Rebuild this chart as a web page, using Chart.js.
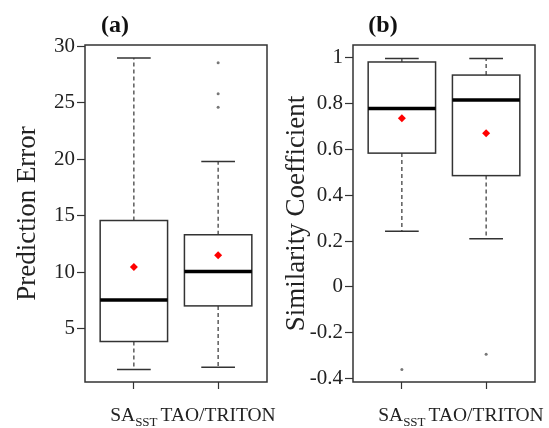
<!DOCTYPE html>
<html>
<head>
<meta charset="utf-8">
<script src="https://cdn.jsdelivr.net/npm/chart.js@4.4.0/dist/chart.umd.min.js"></script>
<style>
  html, body { margin: 0; padding: 0; background: #fff; }
  .panel { position: absolute; top: 0; }
  #panelA { left: 0; }
  #panelB { left: 280px; }
</style>
</head>
<body>
<div class="panel" id="panelA"><canvas id="chartA" width="280" height="428"></canvas></div>
<div class="panel" id="panelB"><canvas id="chartB" width="269" height="428"></canvas></div>
<script>
// categories ("_" marks the subscript part)
const categories = ["SA_SST", "TAO/TRITON"];

// (a) prediction error, one value per category
const errLow = [1.4, 1.6];
const errQ1 = [3.88, 7.03];
const errMedian = [7.55, 10.08];
const errQ3 = [14.58, 13.32];
const errHigh = [28.94, 19.8];
const errMean = [10.47, 11.5];
const errOutliers = [[], [28.53, 25.8, 24.59]];
const errTicks = [5, 10, 15, 20, 25, 30];

// (b) similarity coefficient
const simLow = [0.243, 0.21];
const simQ1 = [0.583, 0.485];
const simMedian = [0.777, 0.814];
const simQ3 = [0.98, 0.923];
const simHigh = [0.995, 0.995];
const simMean = [0.735, 0.67];
const simOutliers = [[-0.36], [-0.293]];
const simTicks = [-0.4, -0.2, 0, 0.2, 0.4, 0.6, 0.8, 1];

const FONT = '"Liberation Serif", "Times New Roman", serif';
const INK = '#333';

function line(ctx, x1, y1, x2, y2) {
  ctx.beginPath();
  ctx.moveTo(x1, y1);
  ctx.lineTo(x2, y2);
  ctx.stroke();
}

// draws the boxes, whiskers, frame, panel letter and category labels
function boxPlugin(stats, letter) {
  return {
    id: 'boxes',
    beforeDatasetsDraw(chart) {
      const ctx = chart.ctx;
      const x = chart.scales.x;
      const y = chart.scales.y;
      stats.q1.forEach((q1, i) => {
        const pos = i + 1;
        const xc = x.getPixelForValue(pos);
        const xl = x.getPixelForValue(pos - 0.4);
        const xr = x.getPixelForValue(pos + 0.4);
        const cl = x.getPixelForValue(pos - 0.2);
        const cr = x.getPixelForValue(pos + 0.2);
        const pLow = y.getPixelForValue(stats.low[i]);
        const pQ1 = y.getPixelForValue(q1);
        const pMed = y.getPixelForValue(stats.median[i]);
        const pQ3 = y.getPixelForValue(stats.q3[i]);
        const pHigh = y.getPixelForValue(stats.high[i]);

        ctx.save();
        ctx.strokeStyle = INK;
        ctx.lineWidth = 1.2;
        ctx.setLineDash([4, 3]);
        line(ctx, xc, pQ3, xc, pHigh);
        line(ctx, xc, pQ1, xc, pLow);
        ctx.setLineDash([]);
        ctx.lineWidth = 1.5;
        line(ctx, cl, pHigh, cr, pHigh);
        line(ctx, cl, pLow, cr, pLow);
        ctx.strokeRect(xl, pQ3, xr - xl, pQ1 - pQ3);
        ctx.strokeStyle = '#000';
        ctx.lineWidth = 3.5;
        line(ctx, xl, pMed, xr, pMed);
        ctx.restore();
      });
    },
    afterDraw(chart) {
      const ctx = chart.ctx;
      const area = chart.chartArea;
      const x = chart.scales.x;
      ctx.save();
      // plot frame
      ctx.strokeStyle = INK;
      ctx.lineWidth = 1.5;
      ctx.strokeRect(area.left, area.top, area.right - area.left, area.bottom - area.top);

      // panel letter
      ctx.fillStyle = '#111';
      ctx.font = 'bold 24px ' + FONT;
      ctx.textAlign = 'center';
      ctx.textBaseline = 'middle';
      ctx.fillText(letter, area.left + 30, 26);

      // category labels with subscripts
      ctx.textAlign = 'left';
      ctx.textBaseline = 'alphabetic';
      ctx.fillStyle = '#222';
      categories.forEach((cat, i) => {
        const parts = cat.split('_');
        const main = parts[0];
        const sub = parts[1] || '';
        ctx.font = '19.5px ' + FONT;
        const wMain = ctx.measureText(main).width;
        ctx.font = '13px ' + FONT;
        const wSub = ctx.measureText(sub).width;
        const start = x.getPixelForValue(i + 1) - (wMain + wSub) / 2;
        ctx.font = '19.5px ' + FONT;
        ctx.fillText(main, start, 421);
        ctx.font = '13px ' + FONT;
        ctx.fillText(sub, start + wMain, 426);
      });
      ctx.restore();
    }
  };
}

function makeChart(id, opts) {
  const points = (list) => list.map((v, i) => ({ x: i + 1, y: v }));
  const outliers = opts.outliers.flatMap((list, i) => list.map(v => ({ x: i + 1, y: v })));

  return new Chart(document.getElementById(id), {
    type: 'scatter',
    data: {
      datasets: [
        {
          data: points(opts.mean),
          pointStyle: 'rectRot',
          pointRadius: 4,
          backgroundColor: '#ff0000',
          borderWidth: 0
        },
        {
          data: outliers,
          pointStyle: 'circle',
          pointRadius: 1.5,
          backgroundColor: '#777',
          borderWidth: 0
        }
      ]
    },
    options: {
      responsive: false,
      animation: false,
      events: [],
      layout: { padding: { left: 0, top: 45, right: opts.rightPad, bottom: 0 } },
      plugins: { legend: { display: false }, tooltip: { enabled: false } },
      scales: {
        x: {
          type: 'linear',
          min: 0.42,
          max: 2.58,
          afterBuildTicks: (axis) => { axis.ticks = categories.map((c, i) => ({ value: i + 1 })); },
          afterFit: (axis) => { axis.height = 46; },
          ticks: { display: false },
          grid: { drawOnChartArea: false, drawTicks: true, tickLength: 7, tickColor: INK, tickWidth: 1.2 },
          border: { display: false }
        },
        y: {
          min: opts.min,
          max: opts.max,
          afterBuildTicks: (axis) => { axis.ticks = opts.ticks.map(v => ({ value: v })); },
          afterFit: (axis) => { axis.width = opts.axisWidth; },
          ticks: {
            padding: 2,
            color: '#222',
            font: { family: FONT, size: 21 },
            callback: (v) => String(v)
          },
          grid: { drawOnChartArea: false, drawTicks: true, tickLength: 8, tickColor: INK, tickWidth: 1.2 },
          border: { display: false },
          title: {
            display: true,
            text: opts.title,
            color: '#222',
            font: { family: FONT, size: 27 },
            padding: { top: opts.titlePad, bottom: 0 }
          }
        }
      }
    },
    plugins: [boxPlugin(opts.stats, opts.letter)]
  });
}

document.addEventListener('DOMContentLoaded', function () {
  makeChart('chartA', {
    letter: '(a)',
    title: 'Prediction Error',
    min: 0.3,
    max: 30.1,
    ticks: errTicks,
    mean: errMean,
    outliers: errOutliers,
    stats: { low: errLow, q1: errQ1, median: errMedian, q3: errQ3, high: errHigh },
    axisWidth: 85,
    rightPad: 13,
    titlePad: 12
  });

  makeChart('chartB', {
    letter: '(b)',
    title: 'Similarity Coefficient',
    min: -0.414,
    max: 1.054,
    ticks: simTicks,
    mean: simMean,
    outliers: simOutliers,
    stats: { low: simLow, q1: simQ1, median: simMedian, q3: simQ3, high: simHigh },
    axisWidth: 73,
    rightPad: 14,
    titlePad: 1
  });
});
</script>
</body>
</html>
